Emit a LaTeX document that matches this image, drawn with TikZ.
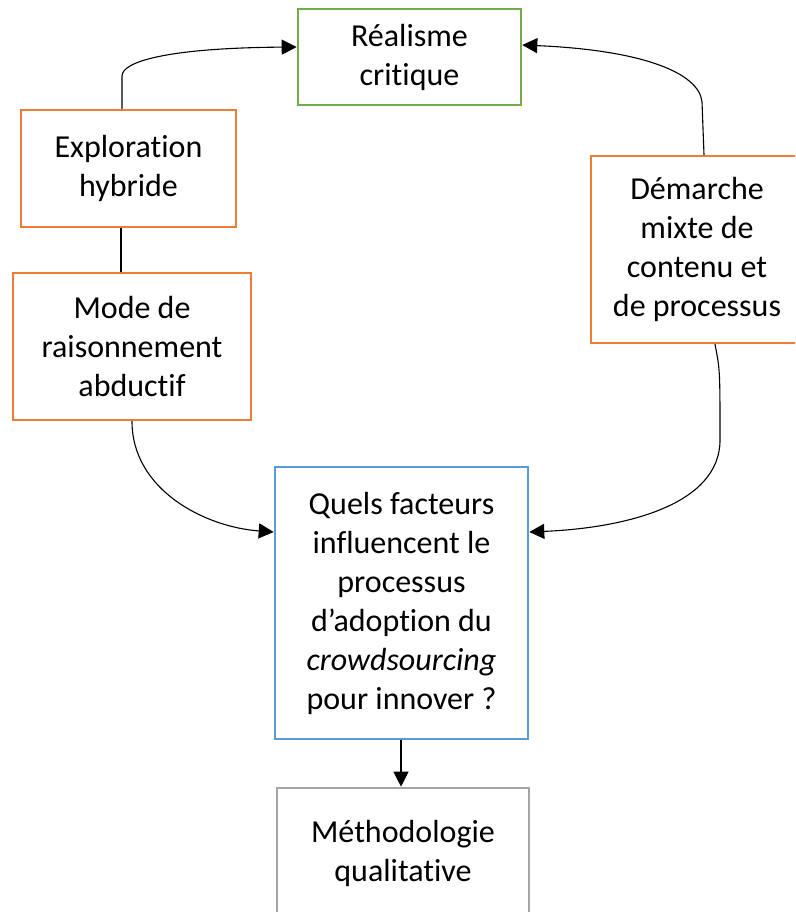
\documentclass[tikz,border=0pt]{standalone}
\usepackage{fontspec}
\setmainfont{Carlito}[Ligatures={NoCommon}, RawFeature={-liga;-dlig;-clig}]
\usetikzlibrary{arrows.meta,calc}
\definecolor{boxgreen}{HTML}{70AD47}
\definecolor{boxorange}{HTML}{ED7D31}
\definecolor{boxblue}{HTML}{5B9BD5}
\definecolor{boxgray}{HTML}{A5A5A5}
\begin{document}
\begin{tikzpicture}[x=1pt,y=-1pt,
  box/.style={draw, line width=2.6pt, fill=white, align=center, inner sep=0pt,
    font=\fontsize{32}{39}\selectfont},
  link/.style={line width=1.1pt, line cap=round},
  tip/.style={-{Triangle[length=15pt,width=15pt]}}]
\useasboundingbox (0,0) rectangle (795,912);
\clip (0,0) rectangle (795,912);

% boxes
\node[box, draw=boxgreen, minimum width=223pt, minimum height=96pt] (real) at (409.5,57) {Réalisme\\critique};
\node[box, draw=boxorange, minimum width=215pt, minimum height=117pt] (expl) at (128.5,168.5) {Exploration\\hybride};
\node[box, draw=boxorange, minimum width=238pt, minimum height=147pt] (mode) at (132,346.5) {Mode de\\raisonnement\\abductif};
\node[box, draw=boxorange, minimum width=212pt, minimum height=187pt] (dem) at (697,249.5) {Démarche\\mixte de\\contenu et\\de processus};
\node[box, draw=boxblue, minimum width=253pt, minimum height=272pt] (quels) at (401.5,603) {Quels facteurs\\influencent le\\processus\\d’adoption du\\\textit{crowdsourcing}\\pour innover ?};
\node[box, draw=boxgray, minimum width=252pt, minimum height=130pt] (meth) at (403,853) {Méthodologie\\qualitative};

% connectors
\coordinate (e1) at (expl.north -| 122,0);
\coordinate (e2) at (122,76);
\draw[link, tip] (e1) -- (e2) .. controls (122,62) and (165,48) .. ($(real.west)+(0,-10)$);

\draw[link] (expl.south -| 121,0) -- (mode.north -| 121,0);

\coordinate (d1) at (dem.north -| 704,0);
\coordinate (d2) at (702,102);
\draw[link, tip] (d1) -- (d2) .. controls (699,72) and (640,50) .. ($(real.east)+(0,-12)$);

\coordinate (m1) at (mode.south -| 132,0);
\draw[link, tip] (m1) .. controls (132,490) and (205,527) .. ($(quels.west)+(0,-71)$);

\coordinate (d3) at (dem.south -| 715,0);
\coordinate (d4) at (720,440);
\draw[link, tip] (d3) .. controls (720,370) .. (d4) .. controls (720,505) and (625,528) .. ($(quels.east)+(0,-71)$);

\draw[link, tip] (quels.south -| 401,0) -- (meth.north -| 401,0);
\end{tikzpicture}
\end{document}
